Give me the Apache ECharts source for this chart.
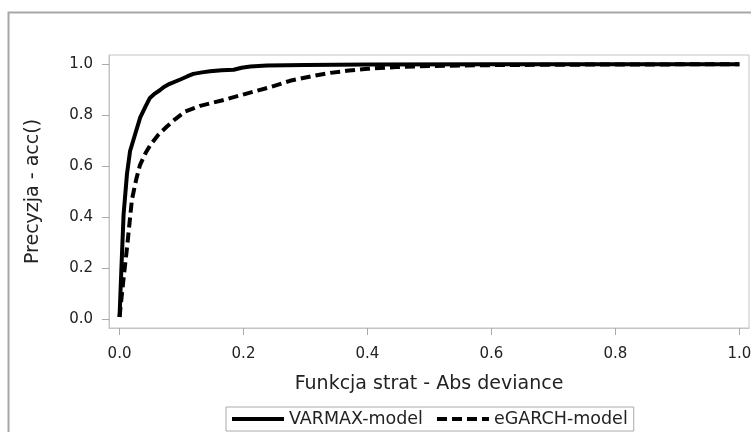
<!DOCTYPE html>
<html><head><meta charset="utf-8">
<script src="https://cdn.jsdelivr.net/npm/echarts@6/dist/echarts.min.js"></script>
<style>html,body{margin:0;padding:0;background:#fff}#c{width:751px;height:432px}</style>
</head><body><div id="c"></div>
<script>
var tickValues = [0, 0.2, 0.4, 0.6, 0.8, 1.0];
var seriesNames = ['VARMAX-model', 'eGARCH-model'];
var xAxisTitle = 'Funkcja strat - Abs deviance';
var yAxisTitle = 'Precyzja - acc()';

var varmaxX = [0, 0.003, 0.0065, 0.012, 0.017, 0.0226, 0.0334, 0.042, 0.049, 0.057, 0.065, 0.071, 0.08, 0.098, 0.109, 0.119, 0.133, 0.146, 0.165, 0.184, 0.197, 0.211, 0.238, 0.3, 0.4, 0.6, 0.8, 1.0];
var varmaxY = [0.01, 0.2, 0.41, 0.57, 0.66, 0.705, 0.792, 0.835, 0.868, 0.885, 0.898, 0.91, 0.922, 0.94, 0.952, 0.962, 0.968, 0.972, 0.976, 0.978, 0.986, 0.991, 0.995, 0.997, 0.999, 1.0, 1.0, 1.0];

var egarchX = [0, 0.006, 0.012, 0.02, 0.027, 0.033, 0.042, 0.05, 0.062, 0.076, 0.09, 0.106, 0.13, 0.168, 0.205, 0.243, 0.275, 0.31, 0.34, 0.37, 0.4, 0.447, 0.5, 0.58, 0.7, 0.85, 1.0];
var egarchY = [0.01, 0.15, 0.28, 0.47, 0.55, 0.605, 0.652, 0.685, 0.722, 0.755, 0.785, 0.815, 0.837, 0.86, 0.885, 0.91, 0.935, 0.953, 0.966, 0.975, 0.982, 0.989, 0.993, 0.996, 0.998, 0.999, 1.0];

function pairs(xs, ys) { return xs.map(function (x, i) { return [x, ys[i]]; }); }

var FONT = 'DejaVu Sans';
var chart = echarts.init(document.getElementById('c'), null, {renderer: 'canvas'});
chart.setOption({
  animation: false,
  backgroundColor: '#fff',
  graphic: [{
    type: 'rect', left: 6, top: 10, z: -1,
    shape: {width: 760, height: 440},
    style: {fill: 'none', stroke: '#a8a8a8', lineWidth: 2}
  }],
  grid: {left: 109, top: 55, right: 2, bottom: 104, show: true, borderColor: '#c4c4c4', borderWidth: 1,
    backgroundColor: 'transparent', containLabel: false, outerBoundsMode: 'none'},
  legend: {
    data: seriesNames,
    left: 226, top: 407,
    padding: [3, 6, 3, 4],
    itemWidth: 52, itemHeight: 14, itemGap: 12,
    borderColor: '#aaaaaa', borderWidth: 1,
    itemStyle: {opacity: 0},
    lineStyle: {width: 4},
    textStyle: {fontFamily: FONT, fontSize: 17.5, color: '#222'}
  },
  xAxis: {
    type: 'value', min: -0.017, max: 1.0155,
    name: xAxisTitle, nameLocation: 'middle', nameGap: 47,
    nameTextStyle: {fontFamily: FONT, fontSize: 19, color: '#222'},
    axisLine: {show: true, onZero: false, lineStyle: {color: '#c4c4c4'}},
    axisTick: {show: true, customValues: tickValues, length: 7, lineStyle: {color: '#aaa'}},
    axisLabel: {customValues: tickValues, margin: 19, fontFamily: FONT, fontSize: 15, color: '#222',
      formatter: function (v) { return v.toFixed(1); }},
    splitLine: {show: false}
  },
  yAxis: {
    type: 'value', min: -0.033, max: 1.036,
    name: yAxisTitle, nameLocation: 'middle', nameGap: 66,
    nameTextStyle: {fontFamily: FONT, fontSize: 19, color: '#222'},
    axisLine: {show: true, onZero: false, lineStyle: {color: '#c4c4c4'}},
    axisTick: {show: true, customValues: tickValues, length: 7, lineStyle: {color: '#aaa'}},
    axisLabel: {customValues: tickValues, margin: 16, fontFamily: FONT, fontSize: 15, color: '#222',
      formatter: function (v) { return v.toFixed(1); }},
    splitLine: {show: false}
  },
  series: [{
    name: seriesNames[0], type: 'line', showSymbol: false, symbol: 'none',
    data: pairs(varmaxX, varmaxY),
    lineStyle: {color: '#000', width: 4, type: 'solid', join: 'round'},
    itemStyle: {color: '#000'}
  }, {
    name: seriesNames[1], type: 'line', showSymbol: false, symbol: 'none',
    data: pairs(egarchX, egarchY),
    lineStyle: {color: '#000', width: 4, type: [10, 5]},
    itemStyle: {color: '#000'}
  }]
});
</script></body></html>
